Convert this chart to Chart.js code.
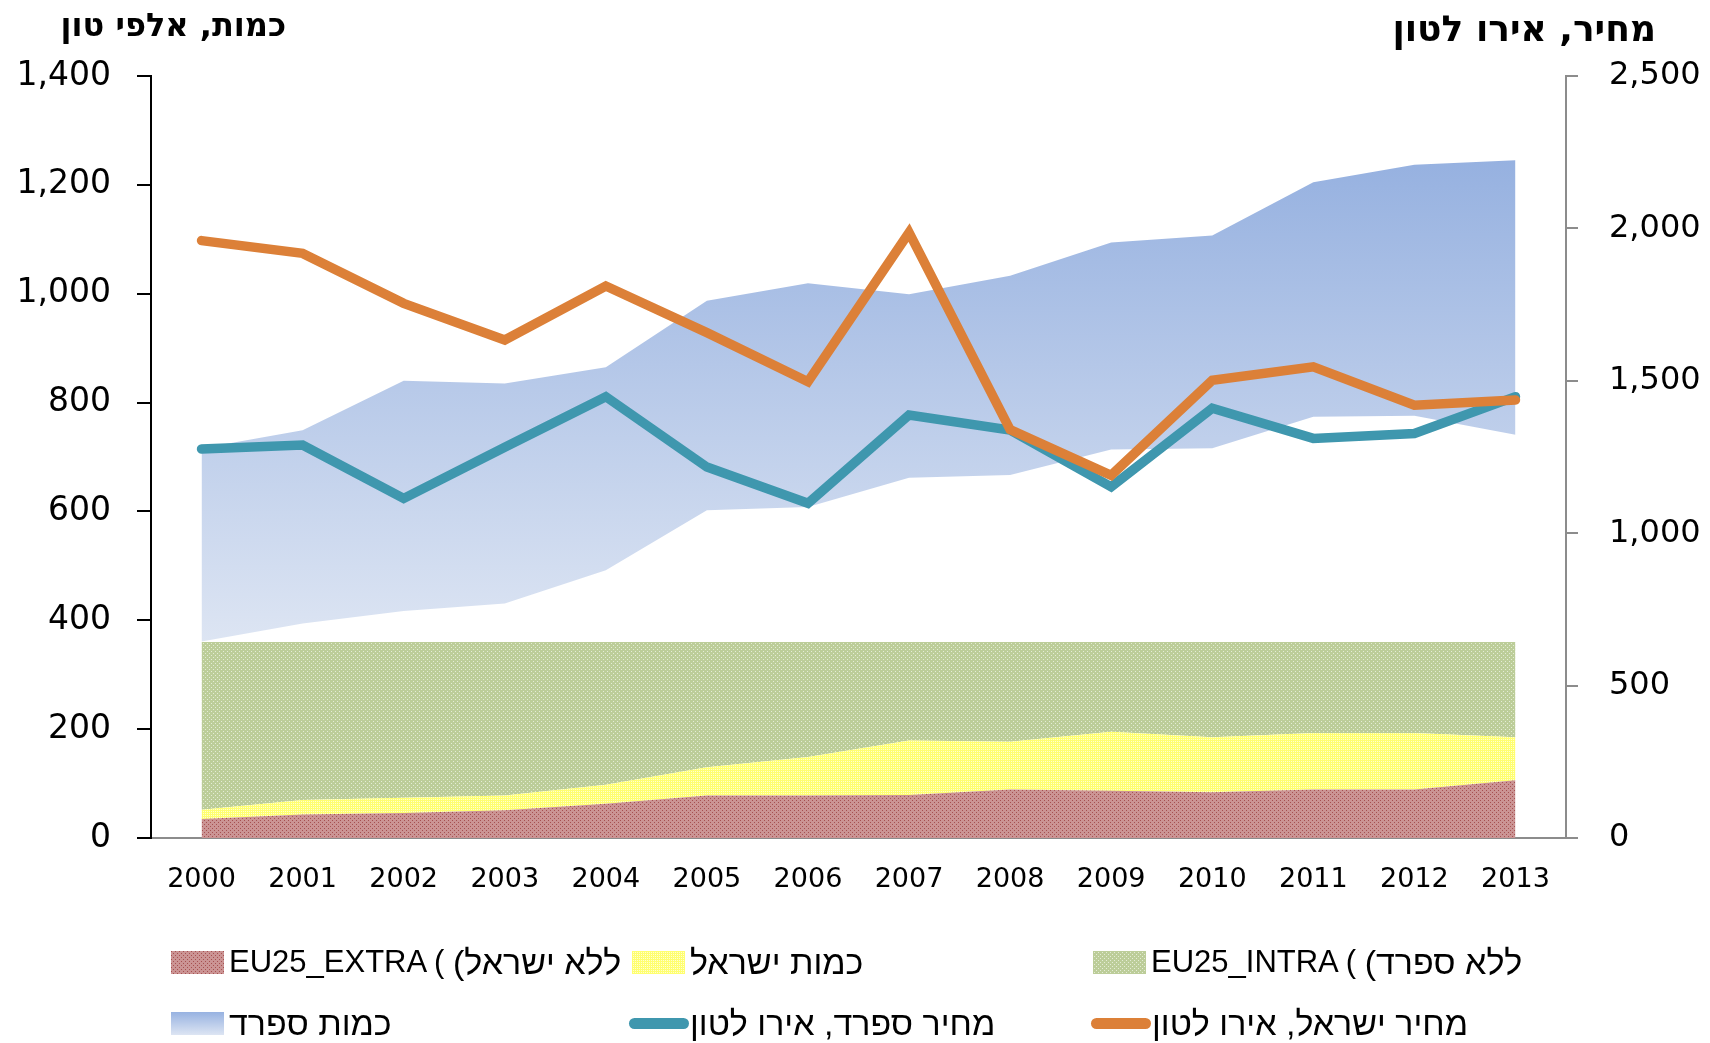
<!DOCTYPE html>
<html lang="he">
<head>
<meta charset="utf-8">
<title>כמות ומחיר</title>
<script src="https://cdn.jsdelivr.net/npm/chart.js@4.4.1/dist/chart.umd.min.js"></script>
<style>
  html, body { margin: 0; padding: 0; background: #fff; }
  #wrap { position: relative; width: 1710px; height: 1043px; overflow: hidden; }
  #chart { position: absolute; left: 0; top: 0; }
  .axis-title { position: absolute; font-family: "DejaVu Sans", sans-serif; font-weight: bold; direction: rtl; white-space: nowrap; color: #000; }
  .leg { position: absolute; display: flex; align-items: center; font-family: "Liberation Sans", "DejaVu Sans", sans-serif; font-size: 31px; color: #000; white-space: nowrap; direction: ltr; }
  .leg .he { font-size: 34px; }
  .sw { width: 53px; height: 23px; margin-right: 5px; }
  .ln { width: 60px; height: 11px; border-radius: 6px; margin-right: 1px; }
</style>
</head>
<body>
<div id="wrap">
  <canvas id="chart" width="1710" height="1043"></canvas>
  <div class="axis-title" id="titleLeft" style="right:1424px; top:6px; font-size:32px;">כמות, אלפי טון</div>
  <div class="axis-title" id="titleRight" style="right:54px; top:8px; font-size:36px;">מחיר, אירו לטון</div>
  <div id="legend"></div>
</div>
<script>
// categories
const years = ['2000', '2001', '2002', '2003', '2004', '2005', '2006', '2007', '2008', '2009', '2010', '2011', '2012', '2013'];

// quantities, thousand tons (stacked)
const extraQty = [35, 43, 46, 51, 63, 78, 78, 79, 89, 87, 84, 89, 89, 106];
const israelQty = [17, 27, 28, 27, 35, 52, 71, 100, 88, 108, 101, 104, 104, 79];
const intraQty = [308, 290, 286, 282, 262, 230, 211, 181, 183, 165, 175, 167, 167, 175];

// Spain quantity band: lower and upper edge
const spainLow = [361, 394, 417, 431, 492, 602, 608, 662, 667, 714, 716, 774, 776, 741];
const spainHigh = [716, 749, 840, 835, 865, 987, 1019, 999, 1033, 1094, 1107, 1205, 1237, 1245];

// prices, euro per ton
const priceIsrael = [1960, 1918, 1754, 1634, 1811, 1658, 1497, 1986, 1340, 1190, 1502, 1546, 1420, 1437];
const priceSpain = [1276, 1289, 1114, 1282, 1448, 1217, 1098, 1388, 1338, 1152, 1410, 1311, 1327, 1448];

// legend labels (latin part + hebrew part, the hebrew part is laid out rtl)
const labelExtra = ['EU25_EXTRA ( ', 'ללא ישראל)'];
const labelIsrael = ['', 'כמות ישראל'];
const labelIntra = ['EU25_INTRA ( ', 'ללא ספרד)'];
const labelSpain = ['', 'כמות ספרד'];
const labelPriceSpain = ['', 'מחיר ספרד, אירו לטון'];
const labelPriceIsrael = ['', 'מחיר ישראל, אירו לטון'];

const ORANGE = '#dc8038';
const TEAL = '#3f97ae';

// small dotted tiles like the excel pattern fills
function makeTile(bg, dot, dots) {
    const c = document.createElement('canvas');
    c.width = 4;
    c.height = 4;
    const x = c.getContext('2d');
    x.fillStyle = bg;
    x.fillRect(0, 0, 4, 4);
    x.fillStyle = dot;
    dots.forEach(p => x.fillRect(p[0], p[1], 1, 1));
    return c;
}

const redTile = makeTile('#cb9494', '#a65050', [[0, 0], [2, 2]]);
const yellowTile = makeTile('#ffff70', '#ffffd0', [[1, 1], [3, 3], [1, 3], [3, 1]]);
const greenTile = makeTile('#bccd99', '#e4ecd6', [[1, 1], [3, 3]]);

const ctx = document.getElementById('chart').getContext('2d');
const redPattern = ctx.createPattern(redTile, 'repeat');
const yellowPattern = ctx.createPattern(yellowTile, 'repeat');
const greenPattern = ctx.createPattern(greenTile, 'repeat');

function spainGradient(context) {
    const chart = context.chart;
    const y = chart.scales.y;
    if (!y || !chart.chartArea) {
        return '#b8c9ea';
    }
    const top = y.getPixelForValue(Math.max(...spainHigh));
    const bottom = y.getPixelForValue(Math.min(...spainLow));
    const g = chart.ctx.createLinearGradient(0, top, 0, bottom);
    g.addColorStop(0, '#96b1e0');
    g.addColorStop(1, '#dde5f3');
    return g;
}

new Chart(ctx, {
    type: 'line',
    data: {
        labels: years,
        datasets: [{
            label: labelPriceIsrael[1],
            data: priceIsrael,
            yAxisID: 'y2',
            borderColor: ORANGE,
            borderWidth: 9.5,
            borderCapStyle: 'round',
            borderJoinStyle: 'miter',
            pointRadius: 0,
            fill: false,
            order: 0
        }, {
            label: labelPriceSpain[1],
            data: priceSpain,
            yAxisID: 'y2',
            borderColor: TEAL,
            borderWidth: 9.5,
            borderCapStyle: 'round',
            borderJoinStyle: 'miter',
            pointRadius: 0,
            fill: false,
            order: 0
        }, {
            label: labelExtra.join(''),
            data: extraQty,
            yAxisID: 'y',
            stack: 'q',
            backgroundColor: redPattern,
            borderWidth: 0,
            pointRadius: 0,
            fill: 'origin',
            order: 1
        }, {
            label: labelIsrael[1],
            data: israelQty,
            yAxisID: 'y',
            stack: 'q',
            backgroundColor: yellowPattern,
            borderWidth: 0,
            pointRadius: 0,
            fill: '-1',
            order: 1
        }, {
            label: labelIntra.join(''),
            data: intraQty,
            yAxisID: 'y',
            stack: 'q',
            backgroundColor: greenPattern,
            borderWidth: 0,
            pointRadius: 0,
            fill: '-1',
            order: 1
        }, {
            label: 'base',
            data: spainLow,
            yAxisID: 'y',
            stack: 'low',
            borderWidth: 0,
            borderColor: 'rgba(0,0,0,0)',
            pointRadius: 0,
            fill: false,
            order: 2
        }, {
            label: labelSpain[1],
            data: spainHigh,
            yAxisID: 'y',
            stack: 'high',
            backgroundColor: spainGradient,
            borderWidth: 0,
            borderColor: 'rgba(0,0,0,0)',
            pointRadius: 0,
            fill: 5,
            order: 2
        }]
    },
    options: {
        responsive: false,
        animation: false,
        layout: { padding: { top: 76, left: 0, right: 0, bottom: 0 } },
        plugins: {
            legend: { display: false },
            tooltip: { enabled: false },
            title: { display: false },
            filler: { propagate: false }
        },
        scales: {
            x: {
                offset: true,
                grid: { display: false, drawTicks: false },
                border: { display: true, color: '#8c8c8c', width: 2 },
                ticks: {
                    color: '#000',
                    padding: 26,
                    maxRotation: 0,
                    font: { family: 'DejaVu Sans', size: 27 }
                },
                afterFit: function(scale) {
                    scale.height = 205;
                }
            },
            y: {
                position: 'left',
                stacked: true,
                min: 0,
                max: 1400,
                grid: {
                    drawOnChartArea: false,
                    drawTicks: true,
                    tickLength: 14,
                    color: '#000',
                    lineWidth: 2
                },
                border: { display: true, color: '#000', width: 2 },
                ticks: {
                    stepSize: 200,
                    color: '#000',
                    padding: 26,
                    font: { family: 'DejaVu Sans', size: 33 },
                    callback: v => v.toLocaleString('en-US')
                },
                afterFit: function(scale) {
                    scale.width = 151;
                }
            },
            y2: {
                position: 'right',
                min: 0,
                max: 2500,
                grid: {
                    drawOnChartArea: false,
                    drawTicks: true,
                    tickLength: 12,
                    color: '#8c8c8c',
                    lineWidth: 2
                },
                border: { display: true, color: '#8c8c8c', width: 2 },
                ticks: {
                    stepSize: 500,
                    color: '#000',
                    padding: 31,
                    font: { family: 'DejaVu Sans', size: 32 },
                    callback: v => v.toLocaleString('en-US')
                },
                afterFit: function(scale) {
                    scale.width = 144;
                }
            }
        }
    }
});

// legend in a fixed 3-column grid, as in the original
const legendItems = [
    { text: labelExtra, kind: 'tile', tile: redTile, x: 171, y: 962 },
    { text: labelIsrael, kind: 'tile', tile: yellowTile, x: 632, y: 962 },
    { text: labelIntra, kind: 'tile', tile: greenTile, x: 1093, y: 962 },
    { text: labelSpain, kind: 'grad', x: 171, y: 1023 },
    { text: labelPriceSpain, kind: 'line', color: TEAL, x: 629, y: 1023 },
    { text: labelPriceIsrael, kind: 'line', color: ORANGE, x: 1091, y: 1023 }
];

const legendBox = document.getElementById('legend');
legendItems.forEach(item => {
    const row = document.createElement('div');
    row.className = 'leg';
    row.style.left = item.x + 'px';
    row.style.top = (item.y - 20) + 'px';
    row.style.height = '40px';

    const mark = document.createElement('span');
    if (item.kind === 'line') {
        mark.className = 'ln';
        mark.style.background = item.color;
    } else {
        mark.className = 'sw';
        if (item.kind === 'tile') {
            mark.style.backgroundImage = 'url(' + item.tile.toDataURL() + ')';
            mark.style.imageRendering = 'pixelated';
        } else {
            mark.style.background = 'linear-gradient(#97b2e1, #dde5f3)';
        }
    }
    row.appendChild(mark);

    if (item.text[0]) {
        const latin = document.createElement('span');
        latin.style.whiteSpace = 'pre';
        latin.textContent = item.text[0];
        row.appendChild(latin);
    }
    const heb = document.createElement('span');
    heb.className = 'he';
    heb.dir = 'rtl';
    heb.textContent = item.text[1];
    row.appendChild(heb);
    legendBox.appendChild(row);
});
</script>
</body>
</html>
